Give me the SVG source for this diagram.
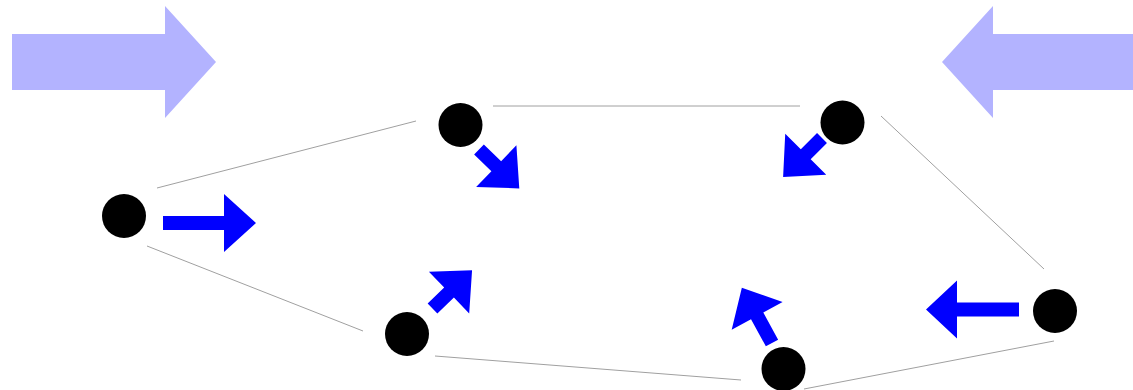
<svg xmlns="http://www.w3.org/2000/svg" width="1133" height="390" viewBox="0 0 1133 390">
<style>
.big{fill:#b3b3ff}
.arr{fill:#0000ff}
.node{fill:#000}
.edge{stroke:#a0a0a0;stroke-width:1;fill:none}
</style>
<rect width="1133" height="390" fill="#fff"/>
<g id="big-arrows">
<polygon class="big" points="12,34 165,34 165,6 216,62 165,118 165,90 12,90"/>
<polygon class="big" points="1133,34 993,34 993,6 942,62 993,118 993,90 1133,90"/>
</g>
<g id="connectors">
<line class="edge" x1="157" y1="188" x2="416" y2="121"/>
<line class="edge" x1="493" y1="106" x2="800" y2="106"/>
<line class="edge" x1="881" y1="116" x2="1044" y2="269"/>
<line class="edge" x1="1054" y1="341" x2="804" y2="389"/>
<line class="edge" x1="741" y1="380" x2="435" y2="356"/>
<line class="edge" x1="147" y1="246" x2="363" y2="331"/>
</g>
<g id="n1"><circle class="node" cx="124" cy="216" r="22"/></g>
<g id="n2"><circle class="node" cx="460.5" cy="125" r="22"/></g>
<g id="n3"><circle class="node" cx="842.5" cy="122.5" r="22"/></g>
<g id="n4"><circle class="node" cx="1055" cy="311" r="22"/></g>
<g id="n5"><circle class="node" cx="783.5" cy="369" r="22"/></g>
<g id="n6"><circle class="node" cx="407" cy="334" r="22"/></g>
<g id="force-arrows">
<polygon class="arr" transform="translate(163,223)" points="0,-7 61,-7 61,-29 93,0 61,29 61,7 0,7"/>
<polygon class="arr" transform="translate(479,149.5) rotate(44)" points="0,-7 24,-7 24,-29 56,0 24,29 24,7 0,7"/>
<polygon class="arr" transform="translate(822,138) rotate(135)" points="0,-7 23,-7 23,-29 55,0 23,29 23,7 0,7"/>
<polygon class="arr" transform="translate(1019,309.5) rotate(180)" points="0,-7 62,-7 62,-29 93,0 62,29 62,7 0,7"/>
<polygon class="arr" transform="translate(772,343) rotate(241.4)" points="0,-7 31,-7 31,-29 63,0 31,29 31,7 0,7"/>
<polygon class="arr" transform="translate(432.5,308.5) rotate(-44)" points="0,-7 23,-7 23,-29 55,0 23,29 23,7 0,7"/>
</g>
</svg>
